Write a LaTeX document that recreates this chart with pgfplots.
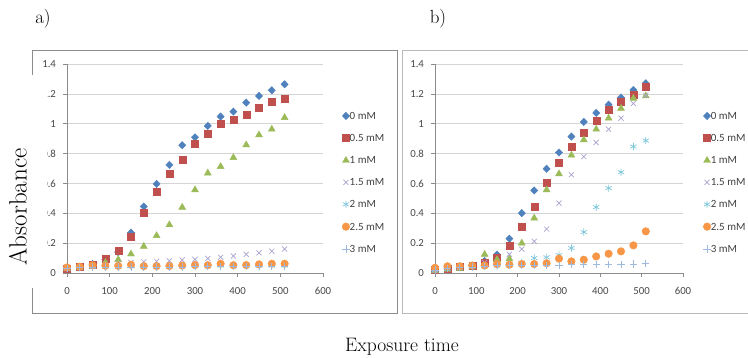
\documentclass[border=0pt]{standalone}
\usepackage{fontspec}
\usepackage{pgfplots}
\pgfplotsset{compat=1.18}
\newfontfamily\calib{Carlito}
\definecolor{c0}{HTML}{4F81BD}
\definecolor{c05}{HTML}{C0504D}
\definecolor{c1}{HTML}{9BBB59}
\definecolor{c15}{HTML}{A9A2CE}
\definecolor{c2}{HTML}{7CC6DA}
\definecolor{c25}{HTML}{F79646}
\definecolor{c3}{HTML}{9DB9DD}
\definecolor{axgray}{HTML}{8C8C8C}
\definecolor{grd}{HTML}{D4D4D4}
\pgfplotsset{
  myax/.style={
    scale only axis, height=209pt,
    xmin=0, xmax=600, ymin=0, ymax=1.4,
    xtick={0,100,200,300,400,500,600},
    ytick={0,0.2,0.4,0.6,0.8,1,1.2,1.4},
    yticklabels={0,0.2,0.4,0.6,0.8,1,1.2,1.4},
    axis lines*=left,
    axis line style={axgray, line width=0.6pt},
    tick align=outside, major tick length=4pt,
    tick style={axgray, line width=0.6pt},
    ymajorgrids, grid style={grd, line width=0.6pt},
    ticklabel style={font=\calib\fontsize{10.8}{12}\selectfont, text=black!72},
    xticklabel style={yshift=-7pt},
    yticklabel style={xshift=-3.5pt},
    /pgf/number format/assume math mode=true,
    legend cell align=left,
    legend style={draw=none, fill=none, inner sep=0pt, row sep=14.9pt,
      font=\calib\fontsize{11}{12}\selectfont, text=black!75,
      nodes={inner sep=0pt, text height=7pt, text depth=0pt},
      /tikz/every even column/.append style={column sep=1.2pt}},
    legend image code/.code={\draw[##1] plot coordinates {(0pt,0pt)};},
    clip=false,
  },
  s0/.style={only marks, mark=diamond*, mark size=3.7pt, c0, mark options={fill=c0, draw=c0, xscale=1.3}},
  s05/.style={only marks, mark=square*, mark size=3.5pt, c05, mark options={fill=c05, draw=c05}},
  s1/.style={only marks, mark=triangle*, mark size=4pt, c1, mark options={fill=c1, draw=c1}},
  s15/.style={only marks, mark=x, mark size=3.6pt, c15, mark options={line width=0.7pt}},
  s2/.style={only marks, mark=asterisk, mark size=3.6pt, c2, mark options={line width=0.7pt}},
  s25/.style={only marks, mark=*, mark size=3.8pt, c25, mark options={fill=c25, draw=c25}},
  s3/.style={only marks, mark=+, mark size=3.6pt, c3, mark options={line width=0.7pt}},
}
\pgfplotstableread{
x a0 a05 a1 a15 a2 a25 a3
0 0.03 0.027 0.03 0.03 0.03 0.037 0.03
30 0.04 0.04 0.035 0.035 0.035 0.042 0.035
60 0.06 0.056 0.05 0.045 0.04 0.052 0.04
90 0.09 0.096 0.07 0.055 0.045 0.048 0.04
120 0.14 0.149 0.09 0.065 0.045 0.048 0.04
150 0.27 0.245 0.127 0.07 0.045 0.055 0.04
180 0.445 0.406 0.178 0.075 0.045 0.046 0.04
210 0.597 0.544 0.25 0.078 0.045 0.046 0.04
240 0.724 0.662 0.323 0.082 0.045 0.047 0.04
270 0.856 0.758 0.44 0.087 0.05 0.05 0.04
300 0.909 0.869 0.557 0.092 0.05 0.053 0.045
330 0.985 0.936 0.669 0.097 0.05 0.052 0.045
360 1.048 0.999 0.713 0.105 0.05 0.062 0.045
390 1.081 1.03 0.773 0.114 0.05 0.052 0.045
420 1.141 1.057 0.858 0.125 0.05 0.053 0.045
450 1.186 1.108 0.925 0.135 0.05 0.058 0.045
480 1.224 1.146 0.963 0.146 0.05 0.062 0.045
510 1.264 1.170 1.041 0.161 0.05 0.062 0.045
}\tabA
\pgfplotstableread{
x b0 b05 b1 b15 b2 b25 b3
0 0.02 0.02 0.015 0.02 0.02 0.035 0.02
30 0.03 0.03 0.025 0.03 0.03 0.045 0.03
60 0.04 0.04 0.03 0.035 0.035 0.045 0.035
90 0.05 0.05 0.04 0.045 0.04 0.05 0.04
120 0.08 0.071 0.125 0.07 0.05 0.05 0.045
150 0.123 0.10 0.09 0.065 0.05 0.06 0.05
180 0.23 0.185 0.095 0.125 0.06 0.055 0.05
210 0.401 0.312 0.2 0.16 0.07 0.06 0.05
240 0.553 0.446 0.368 0.212 0.10 0.06 0.05
270 0.698 0.602 0.557 0.294 0.105 0.065 0.05
300 0.807 0.736 0.664 0.468 0.12 0.096 0.05
330 0.914 0.847 0.789 0.658 0.167 0.078 0.055
360 1.012 0.941 0.892 0.78 0.274 0.089 0.055
390 1.072 1.019 0.963 0.874 0.441 0.111 0.055
420 1.128 1.092 1.037 0.963 0.568 0.129 0.058
450 1.175 1.150 1.103 1.037 0.675 0.145 0.058
480 1.226 1.197 1.17 1.135 0.847 0.185 0.06
510 1.271 1.248 1.186 1.19 0.887 0.279 0.065
}\tabB
\begin{document}
\begin{tikzpicture}[x=1pt,y=1pt]
\useasboundingbox (0,0) rectangle (748,358);
\draw[axgray, line width=0.8pt] (32,45) rectangle (397,308);
\draw[gray!55, line width=0.8pt] (749,45) -- (402,45) -- (402,308) -- (749,308);
\begin{axis}[myax, width=256pt, at={(67pt,85pt)}, anchor=south west,
  legend style={at={(axis description cs:1.074,0.77)}, anchor=north west}]
\addplot[s0] table[x=x,y=a0]{\tabA};
\addplot[s05] table[x=x,y=a05]{\tabA};
\addplot[s1] table[x=x,y=a1]{\tabA};
\addplot[s15] table[x=x,y=a15]{\tabA};
\addplot[s2] table[x=x,y=a2]{\tabA};
\addplot[s25] table[x=x,y=a25]{\tabA};
\addplot[s3] table[x=x,y=a3]{\tabA};
\legend{0 mM,0.5 mM,1 mM,1.5 mM,2 mM,2.5 mM,3 mM}
\end{axis}
\begin{axis}[myax, width=248pt, at={(435pt,85pt)}, anchor=south west,
  legend style={at={(axis description cs:1.081,0.77)}, anchor=north west}]
\addplot[s0] table[x=x,y=b0]{\tabB};
\addplot[s05] table[x=x,y=b05]{\tabB};
\addplot[s1] table[x=x,y=b1]{\tabB};
\addplot[s15] table[x=x,y=b15]{\tabB};
\addplot[s2] table[x=x,y=b2]{\tabB};
\addplot[s25] table[x=x,y=b25]{\tabB};
\addplot[s3] table[x=x,y=b3]{\tabB};
\legend{0 mM,0.5 mM,1 mM,1.5 mM,2 mM,2.5 mM,3 mM}
\end{axis}
\fill[white] (4,70) rectangle (47,283);
\node[rotate=90, font=\fontsize{25}{28}\selectfont] at (18,151) {Absorbance};
\node[font=\fontsize{19}{22}\selectfont] at (43,339) {a)};
\node[font=\fontsize{19}{22}\selectfont] at (438,339) {b)};
\node[font=\fontsize{19.5}{22}\selectfont] at (402,11) {Exposure time};
\end{tikzpicture}
\end{document}
